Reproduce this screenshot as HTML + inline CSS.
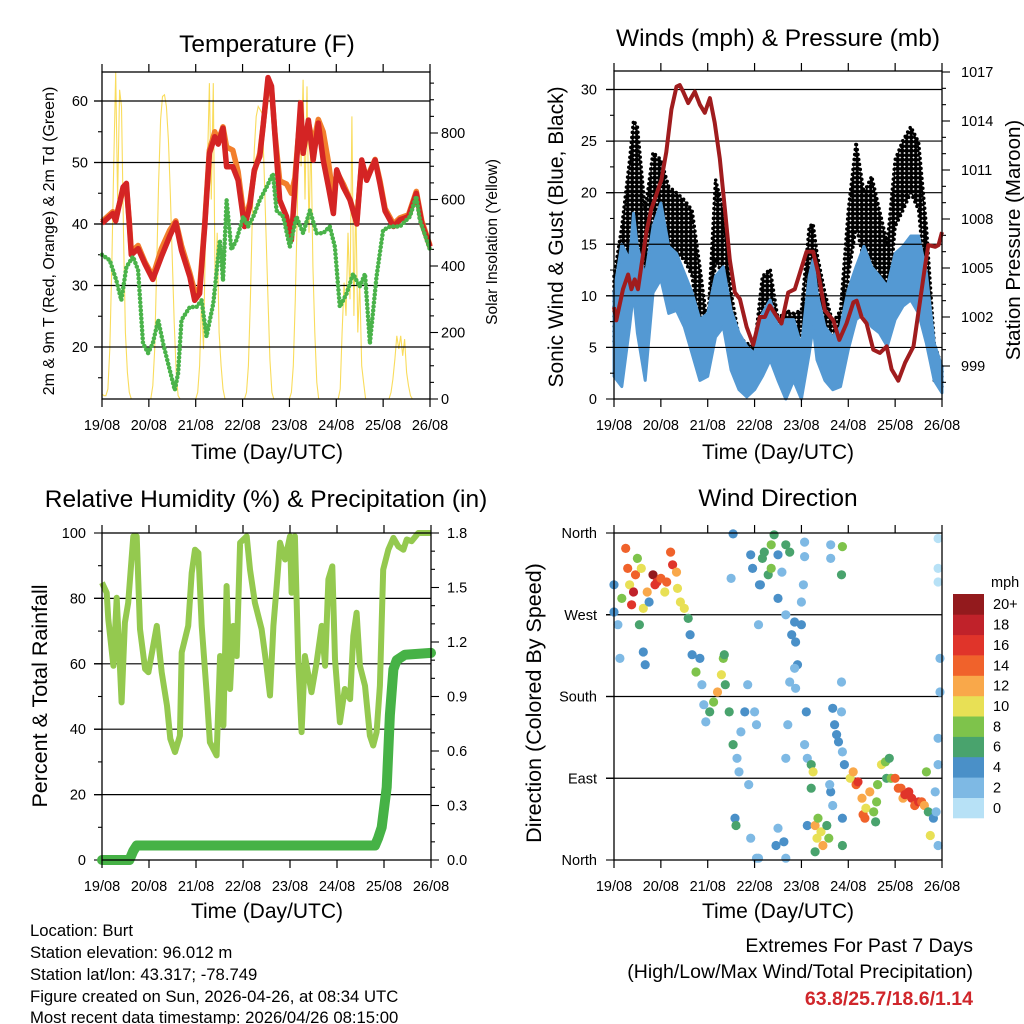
<!DOCTYPE html>
<html><head><meta charset="utf-8">
<style>
html,body{margin:0;padding:0;background:#fff;}
svg{display:block;font-family:"Liberation Sans",Arial,sans-serif;}
</style></head>
<body>
<svg id="fig" width="1024" height="1024" viewBox="0 0 1024 1024" xmlns="http://www.w3.org/2000/svg">
<defs>
<pattern id="dotpat" x="0" y="0" width="4.5" height="4.5" patternUnits="userSpaceOnUse">
<circle cx="2.25" cy="2.25" r="2.4" fill="#000"/>
</pattern>
</defs>
<rect x="0" y="0" width="1024" height="1024" fill="#fff"/>
<g id="p1"></g>
<g id="p2"></g>
<g id="p3"></g>
<g id="p4"></g>

<text x="267" y="52" font-size="24.5" text-anchor="middle">Temperature (F)</text>
<text x="778" y="46" font-size="24.5" text-anchor="middle">Winds (mph) &amp; Pressure (mb)</text>
<text x="266" y="507" font-size="24.5" text-anchor="middle">Relative Humidity (%) &amp; Precipitation (in)</text>
<text x="778" y="506" font-size="24.5" text-anchor="middle">Wind Direction</text>

<text x="267" y="459" font-size="21" text-anchor="middle">Time (Day/UTC)</text>
<text x="778" y="459" font-size="21" text-anchor="middle">Time (Day/UTC)</text>
<text x="267" y="918" font-size="21" text-anchor="middle">Time (Day/UTC)</text>
<text x="778" y="918" font-size="21" text-anchor="middle">Time (Day/UTC)</text>

<text transform="translate(54,241) rotate(-90)" font-size="16" text-anchor="middle">2m &amp; 9m T (Red, Orange) &amp; 2m Td (Green)</text>
<text transform="translate(497,242) rotate(-90)" font-size="15.5" text-anchor="middle">Solar Insolation (Yellow)</text>
<text transform="translate(563,237) rotate(-90)" font-size="21" text-anchor="middle">Sonic Wind &amp; Gust (Blue, Black)</text>
<text transform="translate(1020,240) rotate(-90)" font-size="20.5" text-anchor="middle">Station Pressure (Maroon)</text>
<text transform="translate(47,696) rotate(-90)" font-size="21.5" text-anchor="middle">Percent &amp; Total Rainfall</text>
<text transform="translate(541,703) rotate(-90)" font-size="21.5" text-anchor="middle">Direction (Colored By Speed)</text>

<g font-size="16.7">
<text x="30" y="936">Location: Burt</text>
<text x="30" y="958">Station elevation: 96.012 m</text>
<text x="30" y="980">Station lat/lon: 43.317; -78.749</text>
<text x="30" y="1002">Figure created on Sun, 2026-04-26, at 08:34 UTC</text>
<text x="30" y="1023">Most recent data timestamp: 2026/04/26 08:15:00</text>
</g>
<g>
<text x="973" y="952" font-size="19.5" text-anchor="end">Extremes For Past 7 Days</text>
<text x="973" y="978" font-size="19.5" text-anchor="end">(High/Low/Max Wind/Total Precipitation)</text>
<text x="973" y="1005" font-size="19.5" font-weight="bold" fill="#d0262b" text-anchor="end">63.8/25.7/18.6/1.14</text>
</g>
</svg>
<script>
// ---------- DATA ----------
const dayLabels = ["19/08","20/08","21/08","22/08","23/08","24/08","25/08","26/08"];
// Temperature panel
const tHours = [0,5.6,7,10.8,12.5,14,15,18.5,22,26,30.4,34.7,37.8,40.7,45,47.5,50,52.6,55,57.8,59.5,62,63.8,67,69.7,73,75.7,78,80.8,82.5,85,86.8,88.5,91,94.5,97,98.8,100.5,101.7,103,105.7,108.2,110.8,113.3,116,118.5,120.2,123.6,127,130.5,133,135.6,139.9,142.4,145,149.3,152.7,157,161,163.8,168];
const tempRed = [40.1,41.7,40.5,46,46.6,40,35,36,33.5,31,34.7,38,40.2,35.7,31.4,27.6,28.7,39.6,51.5,54.2,53,55.6,49.3,49.3,47.1,39.6,42.9,48.8,51,55.9,63.8,62.4,54.8,43.9,41.2,37.4,46,54,59.7,51.5,56.9,50.4,56.4,50.4,46,41.7,48.8,46,43.9,40,50.4,47.1,50.4,46.5,42.1,39.6,40.7,41.2,45,40.1,36.3];
const tempOrange = [40.4,42,41,45.5,46,40.5,35.5,36.5,33.8,31.5,36,39,40.5,36.5,32,29,29.5,40,52,55,53.5,55.8,52.5,52,48.5,40.5,43.5,48.5,51.5,56,63.2,62,55,47,46.5,45,47.5,54,58.5,52,56.5,53,57,55,50,44,48.5,46.5,44,40.5,50,47.5,50.5,47,42.5,40,41,41.5,45.3,40.5,36.5];
const tdHours = [0,4,7.4,9.9,12.5,15.9,18.5,21,23.6,26,28.8,31.3,34.7,37.3,39,40.7,45,48.4,51,53.5,57,60.4,62,63.8,66.3,68.9,72.3,74.9,77.5,80.8,84.3,87.6,89.4,92.8,96.2,99.6,103,106.5,109.9,113.3,116.7,119.3,121.8,125.3,128.6,132,134.7,137.2,140.6,144,147.5,152.6,157.7,161,162.8,168];
const dewpoint = [35,34.1,30.8,27.6,33,34.7,32.5,20.6,19,20.6,24.4,20.6,16.3,13,15.7,24.4,26.5,26.5,27.6,21.7,27.1,37.4,30.8,43.9,35.8,37.4,41.2,39.6,41.2,43.9,46,48.2,42.2,41.2,36.3,41.2,38.5,42.2,38.5,38.5,39.6,36.3,26.5,28.7,31.9,29.8,31.9,20.6,31.4,39,39.6,39.6,41.2,44.5,40.7,35.8];
// solar insolation, hourly from hour 0 to 168
const solar = [15,10,10,30,150,400,700,990,600,930,880,500,200,80,20,0,0,0,0,0,0,0,0,0,0,0,40,150,400,650,840,910,915,880,780,620,420,230,80,10,0,0,0,0,0,0,0,0,0,20,100,300,150,500,700,950,600,950,300,500,200,100,30,0,0,0,0,0,0,0,0,0,0,0,20,100,300,550,750,850,880,870,860,700,500,300,120,20,0,0,0,0,0,0,0,0,0,20,100,300,550,900,700,960,600,940,500,800,400,200,50,0,0,0,0,0,0,0,0,0,0,0,30,200,350,250,500,300,850,250,600,200,350,100,50,0,0,0,0,0,0,0,0,0,0,0,0,0,20,60,120,190,150,190,130,180,80,40,10,0,0,0,0,0,0,0,0,0,0,0];
// Wind panel
const wHours = [0,4,8,10,12,16,20,24,28,32,36,40,44,48,52,56,60,64,68,72,76,80,84,88,92,96,100,102,104,108,112,116,120,124,128,132,136,140,144,148,152,156,160,164,168];
const windHi = [10.3,15,13.5,18,14.8,11.9,16.7,19,14.8,14.1,12.2,10.3,7.7,8.3,11.9,12.8,8.6,6.4,5.1,4.4,8.3,9.6,7,7.7,7.7,5.1,11.9,13.5,10.3,7,6,7,10.6,12.8,14.8,12.8,11.9,10.9,14.1,14.8,15.8,15.8,12.2,5.4,3.1];
const windLo = [2.2,1.2,7,10.3,6.4,1.8,10.3,11.6,8.3,8.6,7,4.4,1.8,2.2,6,7,2.8,0.9,0.2,0.9,2.2,3.8,1.8,0,1.8,0,4.4,7,3.8,1.8,0.9,1.2,4.8,7.7,8.3,7,6.4,5.1,7.7,9,9.6,8.3,5.4,1.8,0.6];
const gustHi = [11.9,16.7,23.2,27,26.4,18.3,23.9,23.2,20.6,20,19.3,18.3,12.8,7,21.3,18.3,10.3,6,5.4,5.1,11.9,12.6,7.7,8.6,8.3,8.6,16.7,17,14.1,10.3,7.4,8.6,18.3,24.9,20,21.6,18.3,15.1,23.2,25.1,26.4,24.9,16.7,5.4,3.1];
const gustLo = [5.4,8.6,11.9,15,15.1,7,16.7,18.3,14.8,14.1,13.5,11.9,6,3.8,13.5,11.9,5.4,2.8,1.8,1.8,5.4,7,3.8,2.2,3.8,2.2,10.3,11,7,3.8,2.8,3.1,11.9,16.7,13.5,13.5,10.3,7.7,16.7,18.3,20,18.3,10.3,1.8,1.2];
const pHours = [0,1.2,4.6,7.2,8.9,10.6,12.3,14,16.6,19.1,21.7,24.3,26.8,29.4,32,33.7,35.4,38,41.4,44,46.5,49.1,51.6,54.2,56.8,59.3,61.9,64.5,67.9,71.3,74.7,77.3,79.8,82.4,85.8,89.2,92.6,95.2,98.6,102,104.6,108,112.3,115.4,119.1,122.6,124.3,126.8,129.4,132.8,136.2,139.7,142.2,145.6,149.1,153.4,156.8,159.3,161,164.5,166.2,168];
const pressure = [1002.6,1001.8,1003.7,1004.6,1003.7,1004.3,1003.7,1005.1,1007.2,1008.6,1009.5,1010.4,1012.1,1014.7,1016.1,1016.2,1015.8,1015.1,1015.8,1015,1014.5,1015.4,1013.9,1011.7,1008.6,1005.5,1003.5,1003.1,1001.4,1000.3,1002,1002,1002.7,1002.2,1001.6,1003.5,1003.7,1004.7,1006,1006,1004.7,1002.4,1001.8,1000.6,1001.6,1002.9,1003,1002,1001.6,1000,999.8,1000.2,998.8,998.1,999.2,1000.2,1003,1005.1,1006.4,1006.3,1006.4,1007.2];
// Humidity / precipitation
const rhHours = [0,2.4,3.2,5.8,7.5,10,11.7,13.4,16,17.7,19.4,22,23.7,28,30.5,33.2,34.9,37.3,39.8,40.7,44,45.8,47.5,49.2,50.9,53.4,55.1,58.5,60.3,62,63.6,65.4,67,68.8,70.5,73.9,75.6,78.1,81.5,84,85.8,87.5,89.2,90.9,93.5,96,96.8,98.5,100.2,101.9,103.6,107,109.6,112.2,113.9,115.6,117.6,119,121.5,124,126.7,128.3,130,131.7,134.3,136.8,138.5,140.2,141.9,143.6,146.2,148.8,151.3,153.9,155.6,158.1,161.5,168];
const rh = [84.8,81.7,73.6,59.4,80.2,48.2,72.6,78.7,99,99,70.6,58.4,57.4,71.6,57.4,47.2,37.1,33,38,63.5,71.6,87.8,94.9,93.9,71.6,51.3,36,32,62.4,41.1,83.8,52.3,71.6,62.4,97,99,88.8,78.7,70.6,59.4,50.3,71.6,83.8,97,91.9,99,81.7,99,61.4,39.1,62.4,51.3,60.4,71.6,59.4,85.8,89.8,61.4,42.1,52.3,49.2,68.5,75.6,59.4,53.3,38,35,39.1,53.3,88.8,94.9,98.5,95.9,94.9,98,97.5,100,100];
const prHours = [0,14,16,17.7,139.4,141,142.8,145.4,147,148.8,150.5,154.7,168];
const precip = [0,0,0.05,0.08,0.08,0.12,0.18,0.4,0.8,1.05,1.1,1.13,1.14];
// Wind direction scatter
const wdHour = [0,0,2,3,4,6,7,8,9,10,11,12,13,14,15,15,16,17,18,20,21,22,24,26,27,29,30,32,32.5,34,36,38,39,40,42,44,45,46,47,49,51,53,55,56,57,59,56.5,
61,62,62.5,63,64,65,67,68.5,69,70,71,72,73,74,74.5,74,61,60,
76,77,79,80.5,82,84,86,88,90,80.5,84,75,
88,91,92.5,93,94,92.5,96,90,93,89,88,96,97,97.6,97.6,97.6,98.5,99,
99,101,102,101,103,104,104.5,106,107,109,110,103,87,84,83,70,73,88,
112,113,114,115,116.5,116.5,117,118,111,112,110.5,117,117,116.5,117,111,111,
121,122.5,124,125,127,127.6,128.5,129,131,133,134,134.5,135,137,139,139.6,141,142,144,145.6,147,148,149,151,152.5,154,156,157.6,159,160,161,162,163.6,164.5,165,166,166,167,167,166,166,166,166];
const wdDir = [303,273,259,222,288,343,321,303,281,295,314,332,259,321,277,229,215,295,284,314,303,306,310,295,306,339,325,317,299,284,277,266,248,226,207,222,193,171,152,163,174,185,204,222,193,163,226,
127,46,38,112,97,141,163,193,83,336,321,163,149,259,303,2,359,310,
332,339,314,347,358,336,317,347,339,321,288,303,
270,248,262,240,215,211,259,196,189,149,112,284,303,350,334,127,163,112,
38,105,97,79,38,24,46,31,16,38,24,9,20,35,16,24,2,2,
167,149,138,130,196,163,119,105,75,60,83,16,46,314,345,332,347,
90,97,83,86,68,50,46,57,75,53,42,64,83,105,108,90,112,90,90,79,79,68,72,75,68,60,64,64,60,97,53,27,46,75,53,105,16,222,185,134,354,321,306];
const wdSpeed = [4,4,2,2,8,14,14,10,16,18,14,8,6,10,10,4,4,12,4,20,16,16,14,10,14,14,16,12,10,10,10,6,4,4,8,4,2,2,2,6,8,12,10,8,6,6,6,
6,4,6,2,2,2,4,2,2,4,4,2,2,2,4,2,4,2,
6,6,6,8,6,4,2,6,6,8,4,4,
2,4,4,4,4,2,4,2,2,2,2,2,2,2,2,2,4,2,
4,6,10,6,12,10,8,10,12,6,8,6,4,2,4,2,2,2,
4,4,4,4,2,2,2,4,4,2,2,6,4,6,8,2,2,
10,12,14,16,12,14,14,10,12,8,6,8,8,10,8,6,6,8,14,14,14,12,16,16,16,14,16,14,12,8,6,10,4,2,2,2,2,2,2,2,0,0,0];
const speedBins = ["0","2","4","6","8","10","12","14","16","18","20+"];
const speedColors = ["#b7e1f6","#7eb9e4","#4a90c8","#49a36d","#7ec34b","#e8e055","#f9a84a","#f0622b","#e0342a","#c0222a","#931a1d"];

// ---------- HELPERS ----------
const NS = "http://www.w3.org/2000/svg";
function mk(parent, tag, attrs){ const e=document.createElementNS(NS,tag); for(const k in attrs) e.setAttribute(k,attrs[k]); parent.appendChild(e); return e; }
function linScale(d0,d1,r0,r1){ return v => r0 + (v-d0)/(d1-d0)*(r1-r0); }
function pathFrom(xs, ys, fx, fy){ let d=""; for(let i=0;i<xs.length;i++){ d += (i?"L":"M")+fx(xs[i]).toFixed(1)+","+fy(ys[i]).toFixed(1); } return d; }
function bandPath(xs, hi, lo, fx, fy){ let d=""; for(let i=0;i<xs.length;i++){ d+=(i?"L":"M")+fx(xs[i]).toFixed(1)+","+fy(hi[i]).toFixed(1); } for(let i=xs.length-1;i>=0;i--){ d+="L"+fx(xs[i]).toFixed(1)+","+fy(lo[i]).toFixed(1);} return d+"Z"; }

function frame(g, x0,y0,x1,y1, fx, labelY){
  for(let i=0;i<dayLabels.length;i++){
    const x = fx(i*24);
    const tb = mk(g,"line",{x1:x,y1:y1,x2:x,y2:y1+8,stroke:"#000","stroke-width":1.2});
    
    
    const tt = mk(g,"line",{x1:x,y1:y0,x2:x,y2:y0-8,stroke:"#000","stroke-width":1.2});
    
    
    const t = mk(g,"text",{x:x,y:labelY,"font-size":14.5,"text-anchor":"middle"});
    t.textContent = dayLabels[i];
    
    
  }
}
function box(g,x0,y0,x1,y1){
  const r = mk(g,"rect",{x:x0,y:y0,width:x1-x0,height:y1-y0,fill:"none",stroke:"#000","stroke-width":1.3});
  
  
}
function yAxis(g, vals, fy, x, side, len, labels, lx, grid, gx1){
  vals.forEach((v,i)=>{
    const y = fy(v);
    const dx = side==="left" ? -len : len;
    const t = mk(g,"line",{x1:x,y1:y,x2:x+dx,y2:y,stroke:"#000","stroke-width":1.1});
    
    
    if(grid){
      const gl = mk(g,"line",{x1:x-len,y1:y,x2:gx1,y2:y,stroke:"#000","stroke-width":1.2});
      
      
    }
    if(labels){
      const tx = mk(g,"text",{x:lx,y:y+5,"font-size":14.5,"text-anchor":side==="left"?"end":"start"});
      tx.textContent = labels[i];
      
      
    }
  });
}
function range(a,b,s){ const r=[]; for(let v=a; v<=b+1e-9; v+=s) r.push(+v.toFixed(4)); return r; }

// ---------- PANEL 1: Temperature ----------
(function(){
  const g = document.getElementById("p1");
  const x0=102,x1=430,y0=72,y1=399;
  const fx = linScale(0,168,x0,x1);
  const fy = linScale(20,60,347,101);
  const fs = linScale(0,800,399,133);
  const sh = solar.map((_,i)=>i);
  const sp = mk(g,"path",{d:pathFrom(sh,solar,fx,v=>Math.max(y0,fs(v))),fill:"none",stroke:"#f9dc5c","stroke-width":1.1});
  
  
  const ticks = [20,30,40,50,60];
  yAxis(g,ticks,fy,x0,"left",8,ticks.map(String),88,true,x1);
  yAxis(g,[15,25,35,45,55,65].filter(v=>fy(v)>=y0&&fy(v)<=y1),fy,x0,"left",4,null,0,false);
  yAxis(g,[0,200,400,600,800],fs,x1,"right",8,["0","200","400","600","800"],441,false);
  yAxis(g,range(50,950,50).filter(v=>v%200!==0),fs,x1,"right",4,null,0,false);
  const op = mk(g,"path",{d:pathFrom(tHours,tempOrange,fx,fy),fill:"none",stroke:"#f27f2c","stroke-width":5.5,"stroke-linejoin":"round"});
  
  
  const rp = mk(g,"path",{d:pathFrom(tHours,tempRed,fx,fy),fill:"none",stroke:"#d42424","stroke-width":5.5,"stroke-linejoin":"round"});
  
  
  const dp = mk(g,"path",{d:pathFrom(tdHours,dewpoint,fx,fy),fill:"none",stroke:"#4ab34a","stroke-width":4.5,"stroke-linecap":"round","stroke-dasharray":"0 4"});
  
  
  box(g,x0,y0,x1,y1);
  frame(g,x0,y0,x1,y1,fx,430);
})();

// ---------- PANEL 2: Wind & Pressure ----------
(function(){
  const g = document.getElementById("p2");
  const x0=614,x1=942,y0=71,y1=399;
  const fx = linScale(0,168,x0,x1);
  const fy = linScale(0,30,399,89.5);
  const fp = linScale(999,1017,366,72);
  const gb = mk(g,"path",{d:bandPath(wHours,gustHi,gustLo,fx,fy),fill:"url(#dotpat)",stroke:"#000","stroke-width":3.5,"stroke-dasharray":"0 5","stroke-linecap":"round","stroke-linejoin":"round"});
  
  
  const wb = mk(g,"path",{d:bandPath(wHours,windHi,windLo,fx,fy),fill:"#5499d3",stroke:"#5499d3","stroke-width":3,"stroke-linejoin":"round"});
  
  
  const t = [0,5,10,15,20,25,30];
  yAxis(g,t.slice(1),fy,x0,"left",8,null,0,true,x1);
  yAxis(g,t,fy,x0,"left",8,t.map(String),597,false);
  yAxis(g,[2.5,7.5,12.5,17.5,22.5,27.5],fy,x0,"left",4,null,0,false);
  const pt=[999,1002,1005,1008,1011,1014,1017];
  yAxis(g,pt,fp,x1,"right",8,pt.map(String),961,false);
  yAxis(g,range(998,1016,1).filter(v=>(v-999)%3!==0),fp,x1,"right",4,null,0,false);
  const pp = mk(g,"path",{d:pathFrom(pHours,pressure,fx,fp),fill:"none",stroke:"#a01c1e","stroke-width":4,"stroke-linejoin":"round"});
  
  
  box(g,x0,y0,x1,y1);
  frame(g,x0,y0,x1,y1,fx,430);
})();

// ---------- PANEL 3: RH & Precip ----------
(function(){
  const g = document.getElementById("p3");
  const x0=102,x1=431,y0=533,y1=860;
  const fx = linScale(0,168,x0,x1);
  const fy = linScale(0,100,860,533);
  const fr = linScale(0,1.8,860,533);
  const t=[0,20,40,60,80,100];
  yAxis(g,[20,40,60,80],fy,x0,"left",8,null,0,true,x1);
  yAxis(g,t,fy,x0,"left",8,t.map(String),86,false);
  yAxis(g,[10,30,50,70,90],fy,x0,"left",4,null,0,false);
  const rt=[0,0.3,0.6,0.9,1.2,1.5,1.8];
  yAxis(g,rt,fr,x1,"right",8,rt.map(v=>v.toFixed(1)),447,false);
  yAxis(g,range(0.1,1.7,0.1).filter(v=>Math.round(v*10)%3!==0),fr,x1,"right",4,null,0,false);
  const rp = mk(g,"path",{d:pathFrom(rhHours,rh,fx,fy),fill:"none",stroke:"#94c94f","stroke-width":6,"stroke-linejoin":"round"});
  
  
  const pp = mk(g,"path",{d:pathFrom(prHours,precip,fx,fr),fill:"none",stroke:"#46b246","stroke-width":10,"stroke-linejoin":"round","stroke-linecap":"round"});
  
  
  box(g,x0,y0,x1,y1);
  frame(g,x0,y0,x1,y1,fx,891);
})();

// ---------- PANEL 4: Wind direction ----------
(function(){
  const g = document.getElementById("p4");
  const x0=614,x1=942,y0=533,y1=860;
  const fx = linScale(0,168,x0,x1);
  const fy = linScale(0,360,860,533);
  const dv=[0,90,180,270,360], dl=["North","East","South","West","North"];
  yAxis(g,[90,180,270],fy,x0,"left",8,null,0,true,x1);
  yAxis(g,dv,fy,x0,"left",8,dl,597,false);
  for(let i=0;i<wdHour.length;i++){
    const bin = Math.min(10, Math.floor(wdSpeed[i]/2));
    const c = mk(g,"circle",{cx:fx(wdHour[i]).toFixed(1),cy:fy(wdDir[i]).toFixed(1),r:4.6,fill:speedColors[bin]});
    
    
  }
  box(g,x0,y0,x1,y1);
  frame(g,x0,y0,x1,y1,fx,891);
  const cb = mk(g,"g",{});
  
  
  const h = (818-594)/11;
  for(let i=0;i<11;i++){
    const y = 818 - (i+1)*h;
    const r = mk(cb,"rect",{x:953,y:y.toFixed(1),width:31,height:(h+0.3).toFixed(1),fill:speedColors[i]});
    
    
    const t = mk(cb,"text",{x:993,y:(y+h/2+5).toFixed(1),"font-size":14.5});
    t.textContent = speedBins[i];
    
    
  }
  const u = mk(cb,"text",{x:991,y:587,"font-size":14.5});
  u.textContent = "mph";
  
  
})();
</script>
</body></html>
